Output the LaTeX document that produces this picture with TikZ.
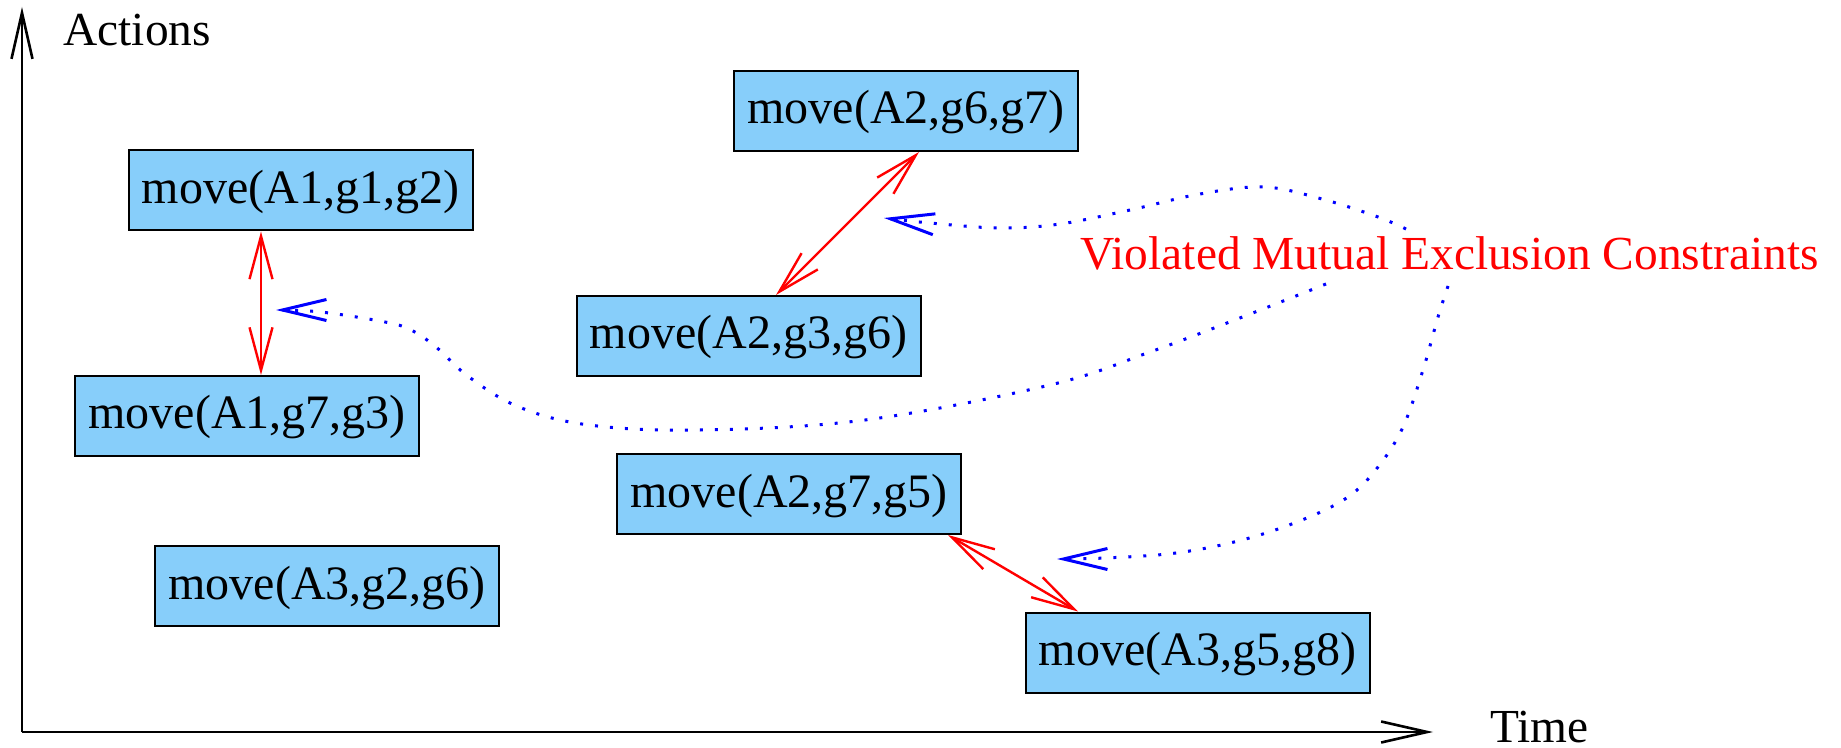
\documentclass[tikz,border=0pt]{standalone}
\usepackage{fontspec}
\setmainfont{Liberation Serif}
\usetikzlibrary{arrows.meta,calc}
\definecolor{boxblue}{RGB}{135,206,250}
\begin{document}
\begin{tikzpicture}[x=0.5pt,y=-0.5pt,
  actbox/.style={draw=black, line width=1pt, fill=boxblue, minimum width=172pt,
    minimum height=40pt, inner sep=0pt, text height=18pt, text depth=5pt,
    font=\fontsize{24pt}{28pt}\selectfont},
  lbl/.style={inner sep=0pt, anchor=base west, font=\fontsize{23.7pt}{28pt}\selectfont},
  axis/.style={line width=1.3pt, -{Straight Barb[length=23pt,width=10.5pt]}},
  mutex/.style={red, line width=1.2pt,
    {Straight Barb[length=21.5pt,width=11.5pt]}-{Straight Barb[length=21.5pt,width=11.5pt]}},
  hint/.style={blue, line width=1.5pt, dash pattern=on 1.5pt off 6pt,
    -{Straight Barb[length=22pt,width=10.5pt]}}
]
\useasboundingbox (0,0) rectangle (1841,748);

% axes
\coordinate (O) at (22,732);
\coordinate (ytop) at (22,7);
\coordinate (xend) at (1433,732);
\draw[axis] (O) -- (ytop);
\draw[axis] (O) -- (xend);
\node[lbl] (act) at (63,46) {Actions};
\node[lbl] (time) at (1490,742) {Time};

% action boxes
\node[actbox] (b1) at (300.5,190.5) {move(A1,g1,g2)};
\node[actbox] (b2) at (247,416) {move(A1,g7,g3)};
\node[actbox] (b3) at (327,586) {move(A3,g2,g6)};
\node[actbox] (b4) at (906,111) {move(A2,g6,g7)};
\node[actbox] (b5) at (748.5,336) {move(A2,g3,g6)};
\node[actbox] (b6) at (789,494) {move(A2,g7,g5)};
\node[actbox] (b7) at (1197.5,652.5) {move(A3,g5,g8)};

% mutual exclusion arrows
\draw[mutex] ($(b1.south)+(-39.5,0)$) -- ($(b2.north)+(14,0)$);
\draw[mutex] ($(b4.south)+(13,0)$) -- ($(b5.north)+(27.5,0)$);
\draw[mutex] ($(b6.south)+(159,0)$) -- ($(b7.north)+(-119.5,0)$);

% label
\node[lbl, red] (viol) at (1080,270) {Violated Mutual Exclusion Constraints};

% hint curves
\coordinate (s1) at (1406,229);
\coordinate (s2) at (1326,284);
\coordinate (s3) at (1448,286);
\coordinate (t1) at (884,218);
\coordinate (t2) at (276,310);
\coordinate (t3) at (1057,559);
\draw[hint] plot[smooth, tension=0.6] coordinates {(s1) (1378,217) (1322,199) (1264,187) (1200,194) (1130,210) (1060,224) (1000,228) (930,223) (t1)};
\draw[hint] plot[smooth, tension=0.6] coordinates {(s2) (1245,316) (1150,352) (1050,385) (865,420) (700,430) (589,425) (519,407) (469,377) (436,347) (411,330) (385,322) (321,312) (t2)};
\draw[hint] plot[smooth, tension=0.6] coordinates {(s3) (1438,317) (1423,370) (1403,427) (1378,467) (1348,497) (1302,520) (1242,540) (1176,553) (1105,558) (t3)};
\end{tikzpicture}
\end{document}
